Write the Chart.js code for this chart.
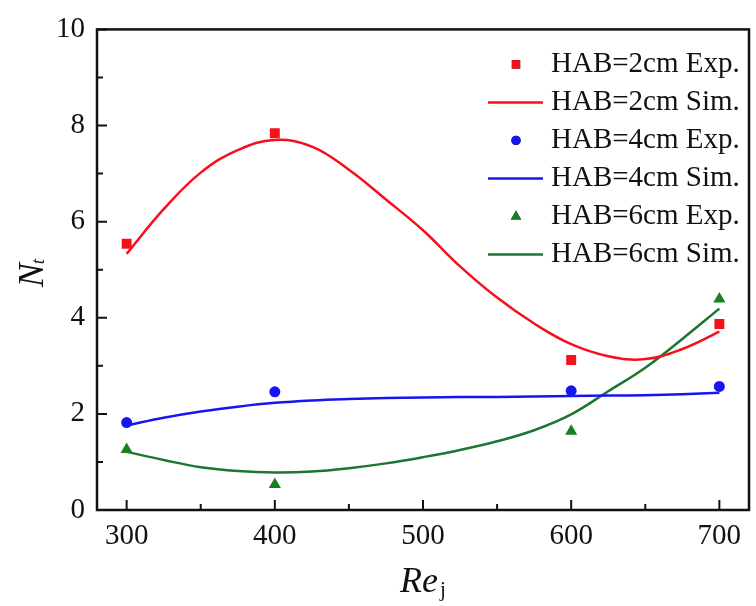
<!DOCTYPE html>
<html>
<head>
<meta charset="utf-8">
<script src="https://cdn.jsdelivr.net/npm/chart.js@4.4.1/dist/chart.umd.min.js"></script>
<style>
  html, body { margin: 0; padding: 0; background: #fff; }
  #wrap { width: 756px; height: 606px; position: relative; }
</style>
</head>
<body>
<div id="wrap"><canvas id="myChart"></canvas></div>
<script>
// 측정값 (Re_j 별)
const expRe = [300, 400, 600, 700];
const exp2cm = [5.54, 7.84, 3.12, 3.87];
const exp4cm = [1.82, 2.46, 2.48, 2.57];
const exp6cm = [1.26, 0.53, 1.64, 4.39];

// 시뮬레이션 곡선
const simRe = [300, 325, 350, 375, 400, 425, 450, 475, 500, 525, 550, 575, 600, 625, 650, 675, 700];
const sim2cm = [5.33, 6.26, 7.02, 7.49, 7.70, 7.56, 7.08, 6.46, 5.82, 5.07, 4.42, 3.88, 3.45, 3.20, 3.14, 3.35, 3.71];
const sim4cm = [1.76, 1.92, 2.05, 2.15, 2.23, 2.28, 2.31, 2.33, 2.34, 2.35, 2.35, 2.36, 2.37, 2.38, 2.39, 2.41, 2.44];
const sim6cm = [1.21, 1.04, 0.89, 0.81, 0.78, 0.80, 0.87, 0.97, 1.10, 1.25, 1.43, 1.66, 1.99, 2.47, 2.96, 3.56, 4.19];

// 축 눈금
const xTicks = [300, 400, 500, 600, 700];
const xMinorTicks = [300, 350, 400, 450, 500, 550, 600, 650, 700];
const yTicks = [0, 2, 4, 6, 8, 10];
const yMinorTicks = [0, 1, 2, 3, 4, 5, 6, 7, 8, 9, 10];

const serif = '"Liberation Serif", "Times New Roman", serif';

const red = 'rgb(245,16,28)';
const blue = 'rgb(22,22,240)';
const greenPt = 'rgb(24,128,32)';
const greenLn = 'rgb(28,118,48)';

const toXY = (xs, ys) => xs.map((x, i) => ({ x: x, y: ys[i] }));

const expSet = (label, ys, color, style, r) => ({
  type: 'scatter',
  label: label,
  data: toXY(expRe, ys),
  pointStyle: style,
  pointRadius: r,
  backgroundColor: color,
  borderColor: color,
  borderWidth: 0,
  order: 0
});

const simSet = (label, ys, color) => ({
  type: 'line',
  label: label,
  data: toXY(simRe, ys),
  borderColor: color,
  borderWidth: 2.5,
  pointRadius: 0,
  tension: 0.4,
  fill: false,
  order: 1
});

// 테두리와 안쪽 눈금
const framePlugin = {
  id: 'frame',
  afterDatasetsDraw(chart) {
    const { ctx, chartArea: a, scales } = chart;
    ctx.save();
    ctx.strokeStyle = '#111';
    ctx.lineWidth = 2.5;
    ctx.strokeRect(a.left, a.top, a.right - a.left, a.bottom - a.top);
    ctx.lineWidth = 2;
    ctx.beginPath();
    xMinorTicks.forEach(v => {
      const px = scales.x.getPixelForValue(v);
      const len = xTicks.includes(v) ? 10 : 6;
      ctx.moveTo(px, a.bottom);
      ctx.lineTo(px, a.bottom - len);
    });
    yMinorTicks.forEach(v => {
      const py = scales.y.getPixelForValue(v);
      const len = yTicks.includes(v) ? 10 : 6;
      ctx.moveTo(a.left, py);
      ctx.lineTo(a.left + len, py);
    });
    ctx.stroke();
    ctx.restore();
  }
};

// 축 제목 (아래첨자 포함)
const titlePlugin = {
  id: 'axisTitles',
  afterDraw(chart) {
    const { ctx, chartArea: a } = chart;
    ctx.save();
    ctx.fillStyle = '#111';
    ctx.textBaseline = 'alphabetic';
    ctx.textAlign = 'left';

    // Re_j
    ctx.font = 'italic 36px ' + serif;
    const wRe = ctx.measureText('Re').width;
    ctx.font = '21px ' + serif;
    const wj = ctx.measureText('j').width;
    let x0 = (a.left + a.right) / 2 - (wRe + wj + 2) / 2;
    ctx.font = 'italic 36px ' + serif;
    ctx.fillText('Re', x0, 592);
    ctx.font = '21px ' + serif;
    ctx.fillText('j', x0 + wRe + 2, 596);

    // N_t
    ctx.translate(43, (a.top + a.bottom) / 2 + 3);
    ctx.rotate(-Math.PI / 2);
    ctx.font = 'italic 36px ' + serif;
    const wN = ctx.measureText('N').width;
    ctx.font = 'italic 19px ' + serif;
    const wt = ctx.measureText('t').width;
    const s = -(wN + wt) / 2;
    ctx.font = 'italic 36px ' + serif;
    ctx.fillText('N', s, 0);
    ctx.font = 'italic 19px ' + serif;
    ctx.fillText('t', s + wN - 1, 1);
    ctx.restore();
  }
};

// 범례 (그래프 안 오른쪽 위)
const legendPlugin = {
  id: 'innerLegend',
  afterDraw(chart) {
    const { ctx, chartArea: a } = chart;
    const ds = chart.data.datasets;
    ctx.save();
    ctx.font = '29px ' + serif;
    ctx.textBaseline = 'middle';
    ctx.textAlign = 'left';
    ds.forEach((d, i) => {
      const y = a.top + 35 + i * 38;
      const mx = a.right - 233;
      if (d.type === 'line') {
        ctx.strokeStyle = d.borderColor;
        ctx.lineWidth = 2.5;
        ctx.beginPath();
        ctx.moveTo(a.right - 261, y);
        ctx.lineTo(a.right - 206, y);
        ctx.stroke();
      } else {
        Chart.helpers.drawPoint(ctx, {
          pointStyle: d.pointStyle,
          radius: d.pointRadius * 0.85,
          borderWidth: 0,
          rotation: 0
        }, mx, y);
        ctx.fillStyle = d.backgroundColor;
        ctx.fill();
      }
      ctx.fillStyle = '#111';
      ctx.fillText(d.label, a.right - 198, y);
    });
    ctx.restore();
  }
};

const ctx = document.querySelector('#myChart');

new Chart(ctx, {
  data: {
    datasets: [
      expSet('HAB=2cm Exp.', exp2cm, red, 'rect', 7),
      simSet('HAB=2cm Sim.', sim2cm, red),
      expSet('HAB=4cm Exp.', exp4cm, blue, 'circle', 5.5),
      simSet('HAB=4cm Sim.', sim4cm, blue),
      expSet('HAB=6cm Exp.', exp6cm, greenPt, 'triangle', 7),
      simSet('HAB=6cm Sim.', sim6cm, greenLn)
    ]
  },
  options: {
    responsive: true,
    maintainAspectRatio: false,
    animation: false,
    layout: { padding: { left: 0, top: 22, right: 3, bottom: 0 } },
    plugins: {
      legend: { display: false },
      tooltip: { enabled: false }
    },
    scales: {
      x: {
        type: 'linear',
        min: 280,
        max: 720,
        grid: { display: false, drawTicks: false },
        border: { display: false },
        afterBuildTicks: scale => { scale.ticks = xTicks.map(v => ({ value: v })); },
        afterFit: scale => { scale.height = 96; },
        ticks: {
          color: '#111',
          padding: 9,
          maxRotation: 0,
          font: { family: serif, size: 29 }
        }
      },
      y: {
        type: 'linear',
        min: 0,
        max: 10,
        grid: { display: false, drawTicks: false },
        border: { display: false },
        afterBuildTicks: scale => { scale.ticks = yTicks.map(v => ({ value: v })); },
        afterFit: scale => { scale.width = 97; },
        ticks: {
          color: '#111',
          padding: 12,
          font: { family: serif, size: 29 }
        }
      }
    }
  },
  plugins: [framePlugin, titlePlugin, legendPlugin]
});
</script>
</body>
</html>
